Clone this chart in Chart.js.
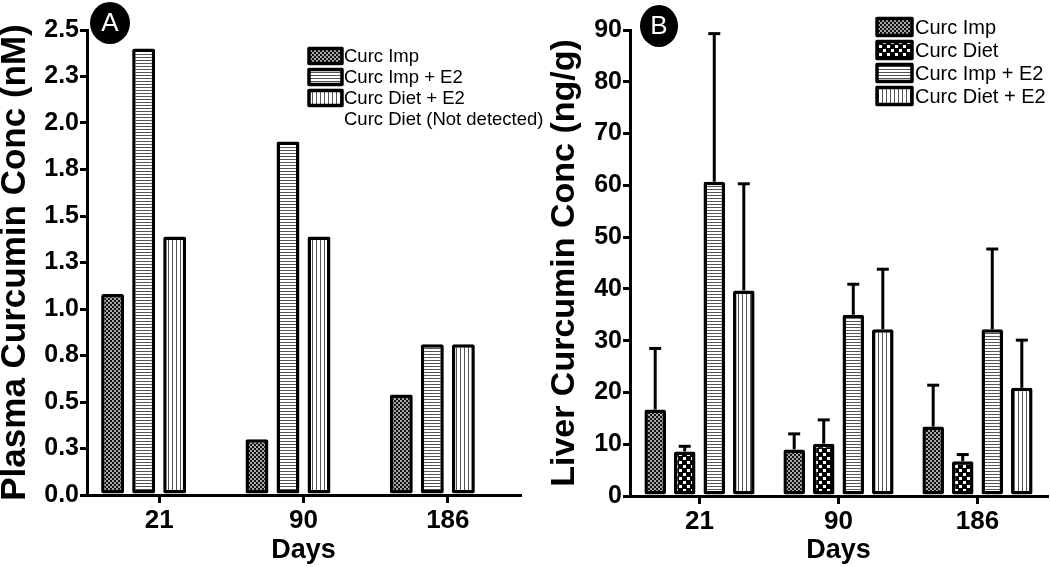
<!DOCTYPE html>
<html><head><meta charset="utf-8">
<script src="https://cdn.jsdelivr.net/npm/chart.js@4.4.0/dist/chart.umd.min.js"></script>
<style>
html,body{margin:0;padding:0;background:#fff;}
#wrap{position:relative;width:1050px;height:567px;overflow:hidden;background:#fff;}
canvas{position:absolute;top:0;}
#cA{left:0;} #cB{left:530px;}
</style></head><body>
<div id="wrap"><canvas id="cA" width="548" height="567"></canvas><canvas id="cB" width="520" height="567"></canvas></div>
<script>
// ---- data ----
const days = ['21', '90', '186'];

const plasmaImp    = [1.08, 0.30, 0.54];
const plasmaImpE2  = [2.40, 1.90, 0.81];
const plasmaDietE2 = [1.39, 1.39, 0.81];
const plasmaDiet   = [null, null, null]; // not detected
const plasmaTickLabels = ['0.0','0.3','0.5','0.8','1.0','1.3','1.5','1.8','2.0','2.3','2.5'];

const liverImp      = [16.7, 9.0, 13.4];
const liverImpErr   = [11.8, 3.0, 8.0];
const liverDiet     = [8.6, 10.1, 6.7];
const liverDietErr  = [1.0, 4.6, 1.3];
const liverImpE2    = [60.7, 35.0, 32.2];
const liverImpE2Err = [28.6, 5.9, 15.5];
const liverDietE2   = [39.7, 32.2, 20.9];
const liverDietE2Err= [20.6, 11.6, 9.2];
const liverTickLabels = ['0','10','20','30','40','50','60','70','80','90'];

// ---- styling helpers ----
const FAM = "'Liberation Sans', Arial, Helvetica, sans-serif";
function tile(w, h, draw) { const c = document.createElement('canvas'); c.width = w; c.height = h; draw(c.getContext('2d')); return c; }
function makePatterns(ctx) {
  return {
    imp: ctx.createPattern(tile(4, 4, x => { x.fillStyle = '#111'; x.fillRect(0,0,4,4); x.fillStyle = '#a8a8a8'; x.fillRect(0,0,2,2); x.fillRect(2,2,2,2); }), 'repeat'),
    diet: ctx.createPattern(tile(8, 8, x => { x.fillStyle = '#000'; x.fillRect(0,0,8,8); x.fillStyle = '#fff'; x.fillRect(1,1,3,3); x.fillRect(5,5,3,3); }), 'repeat'),
    impE2: ctx.createPattern(tile(4, 3, x => { x.fillStyle = '#fff'; x.fillRect(0,0,4,3); x.fillStyle = '#555'; x.fillRect(0,0,4,1); }), 'repeat'),
    dietE2: ctx.createPattern(tile(4, 4, x => { x.fillStyle = '#fff'; x.fillRect(0,0,4,4); x.fillStyle = '#555'; x.fillRect(0,0,1,4); }), 'repeat')
  };
}

const errorBarPlugin = {
  id: 'errbars',
  afterDatasetsDraw(chart) {
    const ctx = chart.ctx, ys = chart.scales.y;
    chart.data.datasets.forEach((ds, i) => {
      if (!ds.errors) return;
      const meta = chart.getDatasetMeta(i);
      meta.data.forEach((el, j) => {
        const v = ds.data[j]; if (v == null) return;
        const yTop = ys.getPixelForValue(v + ds.errors[j]);
        ctx.save();
        ctx.strokeStyle = '#000'; ctx.lineWidth = 3; ctx.lineCap = 'butt';
        ctx.beginPath(); ctx.moveTo(el.x, el.y); ctx.lineTo(el.x, yTop); ctx.stroke();
        ctx.beginPath(); ctx.moveTo(el.x - 6, yTop); ctx.lineTo(el.x + 6, yTop); ctx.stroke();
        ctx.restore();
      });
    });
  }
};

const customLegend = {
  id: 'customLegend',
  afterDraw(chart, args, opts) {
    const ctx = chart.ctx;
    ctx.save();
    ctx.font = opts.fontSize + 'px ' + FAM;
    ctx.textBaseline = 'middle'; ctx.textAlign = 'left'; ctx.fillStyle = '#000';
    chart.data.datasets.forEach((ds, i) => {
      const y = opts.rows[i];
      const hasBox = ds.data.some(v => v != null);
      if (hasBox) {
        ctx.fillStyle = ds.backgroundColor;
        ctx.fillRect(opts.boxX, y - opts.boxH / 2, opts.boxW, opts.boxH);
        ctx.strokeStyle = '#000'; ctx.lineWidth = 3.5; ctx.lineJoin = 'round';
        ctx.strokeRect(opts.boxX, y - opts.boxH / 2, opts.boxW, opts.boxH);
      }
      ctx.fillStyle = '#000';
      ctx.fillText(ds.label, opts.textX, y + 1);
    });
    // badge
    const b = opts.badge;
    ctx.fillStyle = '#000';
    ctx.beginPath(); ctx.ellipse(b.x, b.y, b.rx, b.ry, 0, 0, Math.PI * 2); ctx.fill();
    ctx.fillStyle = '#fff'; ctx.font = '26px ' + FAM; ctx.textAlign = 'center';
    ctx.fillText(b.text, b.x, b.y + 1);
    ctx.restore();
  }
};

function axisOpts(tickLabels, max, step, yTitle, yTitleSize, yWidth, titlePad, xHeight) {
  return {
    x: {
      offset: true,
      afterFit: s => { s.height = xHeight; },
      grid: { display: true, offset: false, drawOnChartArea: false, drawTicks: true, tickLength: 8, lineWidth: 3, color: '#000' },
      border: { display: true, width: 3, color: '#000' },
      ticks: { color: '#000', padding: 5, font: { family: FAM, size: 26, weight: 'bold', lineHeight: 1.0 } },
      title: { display: true, text: 'Days', color: '#000', padding: { top: 0, bottom: 3 }, font: { family: FAM, size: 27, weight: 'bold', lineHeight: 1.0 } }
    },
    y: {
      min: 0, max: max,
      afterFit: s => { s.width = yWidth; },
      grid: { display: true, drawOnChartArea: false, drawTicks: true, tickLength: 7, lineWidth: 3, color: '#000' },
      border: { display: true, width: 3, color: '#000' },
      ticks: { stepSize: step, color: '#000', padding: 1, font: { family: FAM, size: 25, weight: 'bold' },
               callback: (v, i) => tickLabels[i] },
      title: { display: true, text: yTitle, color: '#000', padding: { top: titlePad, bottom: 0 }, font: { family: FAM, size: yTitleSize, weight: 'bold', lineHeight: 0.85 } }
    }
  };
}

const barCommon = { borderColor: '#000', borderWidth: 3.5, borderSkipped: false, borderRadius: 2 };

// ---- Panel A ----
const ctxA = document.getElementById('cA').getContext('2d');
const pA = makePatterns(ctxA);
new Chart(ctxA, {
  type: 'bar',
  data: {
    labels: days,
    datasets: [
      Object.assign({ label: 'Curc Imp', data: plasmaImp, backgroundColor: pA.imp }, barCommon),
      Object.assign({ label: 'Curc Imp + E2', data: plasmaImpE2, backgroundColor: pA.impE2 }, barCommon),
      Object.assign({ label: 'Curc Diet + E2', data: plasmaDietE2, backgroundColor: pA.dietE2 }, barCommon),
      Object.assign({ label: 'Curc Diet (Not detected)', data: plasmaDiet, backgroundColor: '#fff' }, barCommon)
    ]
  },
  options: {
    responsive: false, animation: false,
    layout: { padding: { top: 30, right: 28, left: 0, bottom: 0 } },
    datasets: { bar: { categoryPercentage: 0.86, barPercentage: 0.74 } },
    plugins: {
      legend: { display: false }, tooltip: { enabled: false },
      customLegend: { fontSize: 18.5, rows: [56, 77, 98, 119], boxX: 309, boxW: 33, boxH: 15, textX: 344, badge: { x: 110, y: 23, rx: 20, ry: 21, text: 'A' } }
    },
    scales: axisOpts(plasmaTickLabels, 2.5, 0.25, 'Plasma Curcumin Conc (nM)', 35, 87, 0, 72)
  },
  plugins: [errorBarPlugin, customLegend]
});

// ---- Panel B ----
const ctxB = document.getElementById('cB').getContext('2d');
const pB = makePatterns(ctxB);
new Chart(ctxB, {
  type: 'bar',
  data: {
    labels: days,
    datasets: [
      Object.assign({ label: 'Curc Imp', data: liverImp, errors: liverImpErr, backgroundColor: pB.imp }, barCommon),
      Object.assign({ label: 'Curc Diet', data: liverDiet, errors: liverDietErr, backgroundColor: pB.diet }, barCommon),
      Object.assign({ label: 'Curc Imp + E2', data: liverImpE2, errors: liverImpE2Err, backgroundColor: pB.impE2 }, barCommon),
      Object.assign({ label: 'Curc Diet + E2', data: liverDietE2, errors: liverDietE2Err, backgroundColor: pB.dietE2 }, barCommon)
    ]
  },
  options: {
    responsive: false, animation: false,
    layout: { padding: { top: 30, right: 3, left: 0, bottom: 0 } },
    datasets: { bar: { categoryPercentage: 0.85, barPercentage: 0.73 } },
    plugins: {
      legend: { display: false }, tooltip: { enabled: false },
      customLegend: { fontSize: 20, rows: [27, 50, 73, 96], boxX: 347, boxW: 35, boxH: 17, textX: 385, badge: { x: 129, y: 26, rx: 19, ry: 21, text: 'B' } }
    },
    scales: axisOpts(liverTickLabels, 90, 10, 'Liver Curcumin Conc (ng/g)', 34, 100, 20, 71)
  },
  plugins: [errorBarPlugin, customLegend]
});
</script>
</body></html>
